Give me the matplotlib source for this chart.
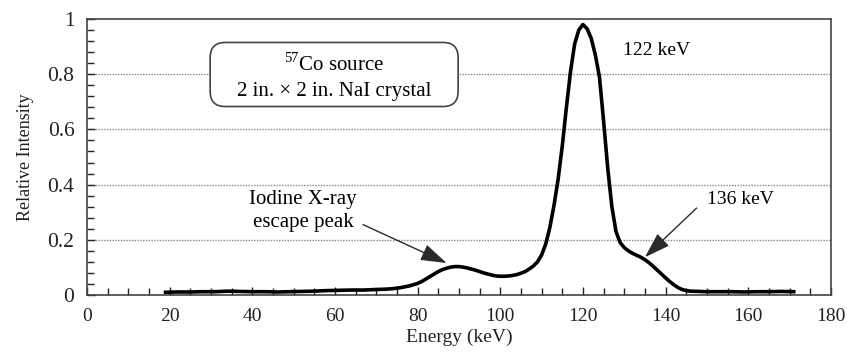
import matplotlib
matplotlib.use("Agg")
import matplotlib.pyplot as plt
from matplotlib.patches import FancyBboxPatch
from matplotlib.ticker import MultipleLocator

plt.rcParams['font.family'] = ['Liberation Serif', 'DejaVu Serif']
plt.rcParams['mathtext.fontset'] = 'custom'
plt.rcParams['mathtext.rm'] = 'Liberation Serif'

energy = [19, 22, 25, 28, 31, 34, 37, 40, 43, 46, 49, 52, 55, 58, 61, 64, 67, 70, 72, 74,
          76, 78, 80, 81, 82, 83, 84, 85, 86, 87, 88, 89, 90, 91, 92, 93, 94, 95, 96, 97,
          98, 99, 100, 101, 102, 103, 104, 105, 106, 107, 108, 109, 110, 111, 112, 113,
          114, 115, 116, 117, 118, 119, 120, 121, 122, 123, 124, 125, 126, 127, 128, 129,
          130, 131, 132, 133, 134, 135, 136, 137, 138, 139, 140, 141, 142, 143, 144, 145,
          146, 148, 150, 153, 156, 159, 162, 165, 168, 171]
intensity = [0.010, 0.011, 0.011, 0.012, 0.012, 0.014, 0.013, 0.012, 0.012, 0.011, 0.012,
             0.013, 0.014, 0.016, 0.017, 0.018, 0.018, 0.020, 0.021, 0.023,
             0.027, 0.033, 0.042, 0.049, 0.058, 0.067, 0.076, 0.085, 0.092, 0.097, 0.101,
             0.103, 0.103, 0.101, 0.098, 0.094, 0.090, 0.085, 0.080, 0.076,
             0.072, 0.069, 0.068, 0.068, 0.069, 0.071, 0.074, 0.079, 0.085, 0.094, 0.105,
             0.120, 0.145, 0.185, 0.245, 0.325,
             0.42, 0.54, 0.68, 0.81, 0.91, 0.96, 0.98, 0.965, 0.93, 0.87, 0.79, 0.63, 0.46,
             0.32, 0.23, 0.19,
             0.172, 0.160, 0.151, 0.144, 0.137, 0.128, 0.117, 0.104, 0.090, 0.076, 0.062,
             0.049, 0.037, 0.027, 0.020, 0.016,
             0.014, 0.013, 0.012, 0.012, 0.012, 0.011, 0.012, 0.012, 0.013, 0.012]

x_ticks = [0, 20, 40, 60, 80, 100, 120, 140, 160, 180]
y_ticks = [0, 0.2, 0.4, 0.6, 0.8, 1]
y_tick_labels = ['0', '0.2', '0.4', '0.6', '0.8', '1']

fig = plt.figure(figsize=(8.47, 3.56), dpi=100)
ax = fig.add_axes([0.1027, 0.1713, 0.981 - 0.1027, 0.9466 - 0.1713])

ax.set_xlim(0, 180)
ax.set_ylim(0, 1)
ax.set_xticks(x_ticks)
ax.set_yticks(y_ticks)
ax.set_yticklabels(y_tick_labels)
ax.xaxis.set_minor_locator(MultipleLocator(5))
ax.yaxis.set_minor_locator(MultipleLocator(0.04))
ax.tick_params(axis='both', which='both', direction='in', top=False, right=False,
               colors='#222222', width=1)
ax.tick_params(axis='x', which='major', length=6, pad=9, labelsize=14)
ax.tick_params(axis='y', which='major', length=6, pad=9, labelsize=15.5)
ax.tick_params(axis='both', which='minor', length=5)

for s in ax.spines.values():
    s.set_color('#444444')
    s.set_linewidth(1.2)

for gy in y_ticks[1:-1]:
    ax.axhline(gy, color='#888888', lw=1.0, ls=(0, (1, 1)), zorder=1)

ax.plot(energy, intensity, color='black', lw=2.6, zorder=4, solid_joinstyle='round')

ax.set_xlabel('Energy (keV)', fontsize=14, color='#222222', labelpad=3)
ax.set_ylabel('Relative Intensity', fontsize=13, color='#222222', labelpad=10)

# annotation box
box = FancyBboxPatch((29.8, 0.683), 60.0, 0.232,
                     boxstyle='round,pad=0,rounding_size=3.6', mutation_aspect=0.0153,
                     facecolor='white', edgecolor='#444444', lw=1.2, zorder=3)
ax.add_patch(box)
ax.text(59.8, 0.836, r'$^{57}$Co source', ha='center', va='center', fontsize=15, zorder=5)
ax.text(59.8, 0.738, '2 in. × 2 in. NaI crystal', ha='center', va='center', fontsize=15, zorder=5)

ax.text(137.7, 0.885, '122 keV', ha='center', va='center', fontsize=14)

arrow = dict(arrowstyle='-|>,head_length=0.8,head_width=0.26', color='#2a2a2a',
             lw=1.0, mutation_scale=20, shrinkA=0, shrinkB=0)
ax.annotate('', xy=(87.0, 0.116), xytext=(66.8, 0.255), arrowprops=arrow, zorder=6)
ax.text(52.3, 0.305, 'Iodine X-ray\nescape peak', ha='center', va='center', fontsize=15,
        linespacing=1.3)

ax.annotate('', xy=(135.0, 0.137), xytext=(147.5, 0.315), arrowprops=arrow, zorder=6)
ax.text(158.0, 0.345, '136 keV', ha='center', va='center', fontsize=14)

fig.savefig('out.png', dpi=100)
